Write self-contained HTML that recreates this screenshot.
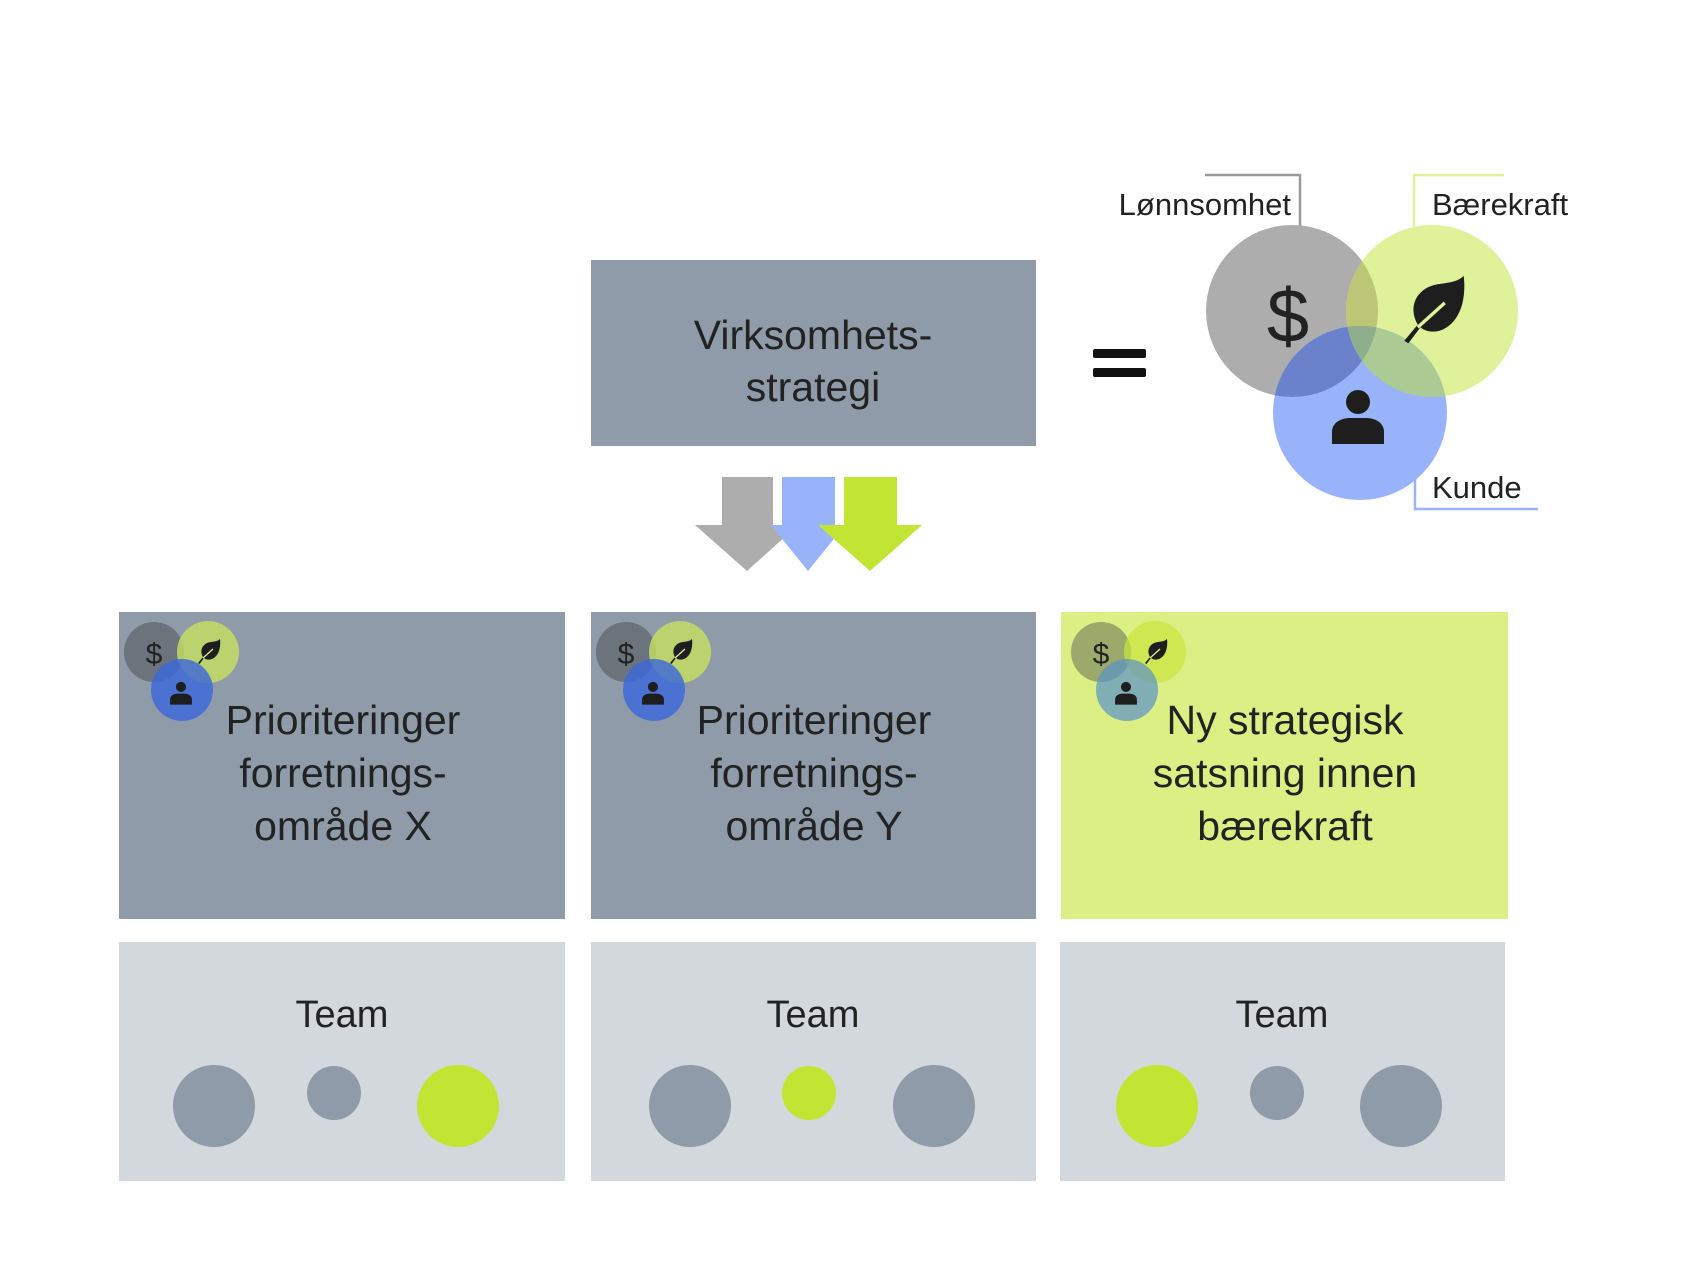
<!DOCTYPE html>
<html><head><meta charset="utf-8"><style>
html,body{margin:0;padding:0;background:#fff;}
svg{display:block;}
text{font-family:"Liberation Sans",sans-serif;fill:#222;}
</style></head><body>
<svg width="1700" height="1268" viewBox="0 0 1700 1268" xmlns="http://www.w3.org/2000/svg">
<defs>
<clipPath id="cg"><circle cx="1292" cy="311" r="86"/></clipPath>
<clipPath id="cgr"><circle cx="1432" cy="311" r="86"/></clipPath>
<clipPath id="cgb"><circle cx="1292" cy="311" r="86"/></clipPath>
<g id="leaf"><path d="M-22,22 L-12,10 C-20,-4 -12,-18 4,-20 C12,-21 18,-22 22,-26 C24,-10 20,8 6,14 C-2,17 -8,14 -10,12 L-19,24 Z" fill="#1e1e1e"/><path d="M-12,12 L8,-6" stroke="#dff29a" stroke-width="2.5"/></g>
<g id="person"><circle cx="0" cy="-12" r="12" fill="#1e1e1e"/><path d="M-26,30 L-26,18 C-26,8 -16,4 -8,4 L8,4 C16,4 26,8 26,18 L26,30 Z" fill="#1e1e1e"/></g>
</defs>

<!-- top box -->
<rect x="591" y="260" width="445" height="186" fill="#8f9ba8"/>
<text x="813" y="349" font-size="41" text-anchor="middle">Virksomhets-</text>
<text x="813" y="401" font-size="41" text-anchor="middle">strategi</text>

<!-- arrows -->
<polygon points="722,477 773,477 773,525 798,525 747,571 695,525 722,525" fill="#adadad"/>
<polygon points="782,477 835,477 835,525 845,525 808,571 771,525 782,525" fill="#99b3fb"/>
<polygon points="844,477 897,477 897,525 922,525 870,571 818,525 844,525" fill="#c2e534"/>

<!-- equals -->
<rect x="1093" y="349" width="53" height="9" rx="2" fill="#111"/>
<rect x="1093" y="368" width="53" height="9" rx="2" fill="#111"/>

<!-- label lines -->
<polyline points="1205,175 1300,175 1300,227" fill="none" stroke="#9a9a9a" stroke-width="2.5"/>
<polyline points="1414,227 1414,175 1504,175" fill="none" stroke="#dff29a" stroke-width="2.5"/>
<polyline points="1415,477 1415,509 1538,509" fill="none" stroke="#99b3fb" stroke-width="2.5"/>
<text x="1291" y="215" font-size="31" text-anchor="end" fill="#333">Lønnsomhet</text>
<text x="1432" y="215" font-size="31" fill="#333">Bærekraft</text>
<text x="1432" y="498" font-size="31" fill="#333">Kunde</text>

<!-- big venn -->
<circle cx="1292" cy="311" r="86" fill="#adadad"/>
<circle cx="1432" cy="311" r="86" fill="#dff29a"/>
<circle cx="1432" cy="311" r="86" fill="#bcc677" clip-path="url(#cg)"/>
<circle cx="1360" cy="413" r="87" fill="#99b3fb"/>
<circle cx="1360" cy="413" r="87" fill="#6a82cc" clip-path="url(#cg)"/>
<circle cx="1360" cy="413" r="87" fill="#acca94" clip-path="url(#cgr)"/>
<g clip-path="url(#cg)"><circle cx="1360" cy="413" r="87" fill="#8fae8c" clip-path="url(#cgr)"/></g>
<text x="1288" y="342" font-size="76" text-anchor="middle" fill="#1e1e1e">$</text>
<use href="#leaf" transform="translate(1434,311) scale(1.35)"/>
<use href="#person" transform="translate(1358,414)"/>

<!-- mid boxes -->
<rect x="119" y="612" width="446" height="307" fill="#8f9ba8"/>
<rect x="591" y="612" width="445" height="307" fill="#8f9ba8"/>
<rect x="1061" y="612" width="447" height="307" fill="#dcef85"/>

<!-- small venns -->
<g>
<circle cx="154" cy="652" r="30" fill="#5f666e" fill-opacity="0.75"/>
<circle cx="208" cy="652" r="31" fill="#c7e060" fill-opacity="0.8"/>
<circle cx="182" cy="690" r="31" fill="#3a66dc" fill-opacity="0.8"/>
<text x="154" y="664" font-size="30" text-anchor="middle" fill="#1e1e1e">$</text>
<use href="#leaf" transform="translate(209,652) scale(0.5)"/>
<use href="#person" transform="translate(181,692) scale(0.42)"/>
</g>
<g>
<circle cx="626" cy="652" r="30" fill="#5f666e" fill-opacity="0.75"/>
<circle cx="680" cy="652" r="31" fill="#c7e060" fill-opacity="0.8"/>
<circle cx="654" cy="690" r="31" fill="#3a66dc" fill-opacity="0.8"/>
<text x="626" y="664" font-size="30" text-anchor="middle" fill="#1e1e1e">$</text>
<use href="#leaf" transform="translate(681,652) scale(0.5)"/>
<use href="#person" transform="translate(653,692) scale(0.42)"/>
</g>
<g>
<circle cx="1101" cy="652" r="30" fill="#6f7a5a" fill-opacity="0.6"/>
<circle cx="1155" cy="652" r="31" fill="#c9e43a" fill-opacity="0.7"/>
<circle cx="1127" cy="690" r="31" fill="#5a93c8" fill-opacity="0.7"/>
<text x="1101" y="664" font-size="30" text-anchor="middle" fill="#1e1e1e">$</text>
<use href="#leaf" transform="translate(1156,652) scale(0.5)"/>
<use href="#person" transform="translate(1126,692) scale(0.42)"/>
</g>

<g font-size="41" text-anchor="middle">
<text x="343" y="734">Prioriteringer</text>
<text x="343" y="787">forretnings-</text>
<text x="343" y="840">område X</text>
<text x="814" y="734">Prioriteringer</text>
<text x="814" y="787">forretnings-</text>
<text x="814" y="840">område Y</text>
<text x="1285" y="734">Ny strategisk</text>
<text x="1285" y="787">satsning innen</text>
<text x="1285" y="840">bærekraft</text>
</g>

<!-- bottom boxes -->
<rect x="119" y="942" width="446" height="239" fill="#d3d8dd"/>
<rect x="591" y="942" width="445" height="239" fill="#d3d8dd"/>
<rect x="1060" y="942" width="445" height="239" fill="#d3d8dd"/>
<g font-size="38" text-anchor="middle" fill="#333">
<text x="342" y="1027">Team</text>
<text x="813" y="1027">Team</text>
<text x="1282" y="1027">Team</text>
</g>
<circle cx="214" cy="1106" r="41" fill="#8f9ba8"/>
<circle cx="334" cy="1093" r="27" fill="#8f9ba8"/>
<circle cx="458" cy="1106" r="41" fill="#c2e534"/>
<circle cx="690" cy="1106" r="41" fill="#8f9ba8"/>
<circle cx="809" cy="1093" r="27" fill="#c2e534"/>
<circle cx="934" cy="1106" r="41" fill="#8f9ba8"/>
<circle cx="1157" cy="1106" r="41" fill="#c2e534"/>
<circle cx="1277" cy="1093" r="27" fill="#8f9ba8"/>
<circle cx="1401" cy="1106" r="41" fill="#8f9ba8"/>
</svg>
</body></html>
